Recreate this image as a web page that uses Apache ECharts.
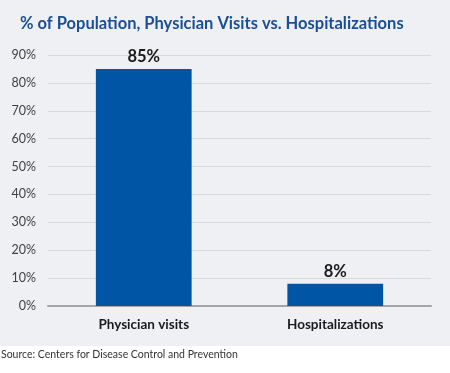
<!DOCTYPE html>
<html><head><meta charset="utf-8">
<script src="https://cdn.jsdelivr.net/npm/echarts@6/dist/echarts.min.js"></script>
<style>html,body{margin:0;padding:0;background:#fff}#c{width:450px;height:373px}</style>
</head><body><div id="c"></div>
<script>
const categories = ['Physician visits', 'Hospitalizations'];
const values = [85, 8];
const titleText = '% of Population, Physician Visits vs. Hospitalizations';
const sourceText = 'Source: Centers for Disease Control and Prevention';
const FONT = 'Lato, sans-serif';
const chart = echarts.init(document.getElementById('c'), null, {renderer: 'canvas'});
chart.setOption({
  backgroundColor: '#ffffff',
  animation: false,
  graphic: [
    {type: 'rect', z: -10, shape: {x: 0, y: 0, width: 450, height: 346}, style: {fill: '#eff0f3'}, silent: true},
    {type: 'text', left: 1, top: 349, style: {text: sourceText, font: '10.5px ' + FONT, fill: '#333333'}}
  ],
  title: {
    text: titleText, left: 15, top: 10,
    textStyle: {fontFamily: FONT, fontWeight: 'bold', fontSize: 16.5, color: '#1a4e96'}
  },
  grid: {left: 48, right: 19, top: 55, bottom: 67, containLabel: false},
  xAxis: {
    type: 'category', data: categories,
    axisLine: {lineStyle: {color: '#a6a6a6', width: 2}},
    axisTick: {show: false},
    axisLabel: {fontFamily: FONT, fontWeight: 'bold', fontSize: 13.5, color: '#1a1a1a', margin: 12}
  },
  yAxis: {
    type: 'value', min: 0, max: 90, interval: 10,
    axisLine: {show: false}, axisTick: {show: false},
    splitLine: {lineStyle: {color: '#d9d9d9', width: 1}},
    axisLabel: {formatter: '{value}%', fontFamily: FONT, fontSize: 12.5, color: '#404040', margin: 12}
  },
  series: [{
    type: 'bar', data: values, barWidth: '50%',
    itemStyle: {color: '#0055a5'},
    label: {show: true, position: 'top', formatter: '{c}%', fontFamily: FONT, fontWeight: 'bold', fontSize: 16.5, color: '#1a1a1a', distance: 4}
  }]
});
</script></body></html>
